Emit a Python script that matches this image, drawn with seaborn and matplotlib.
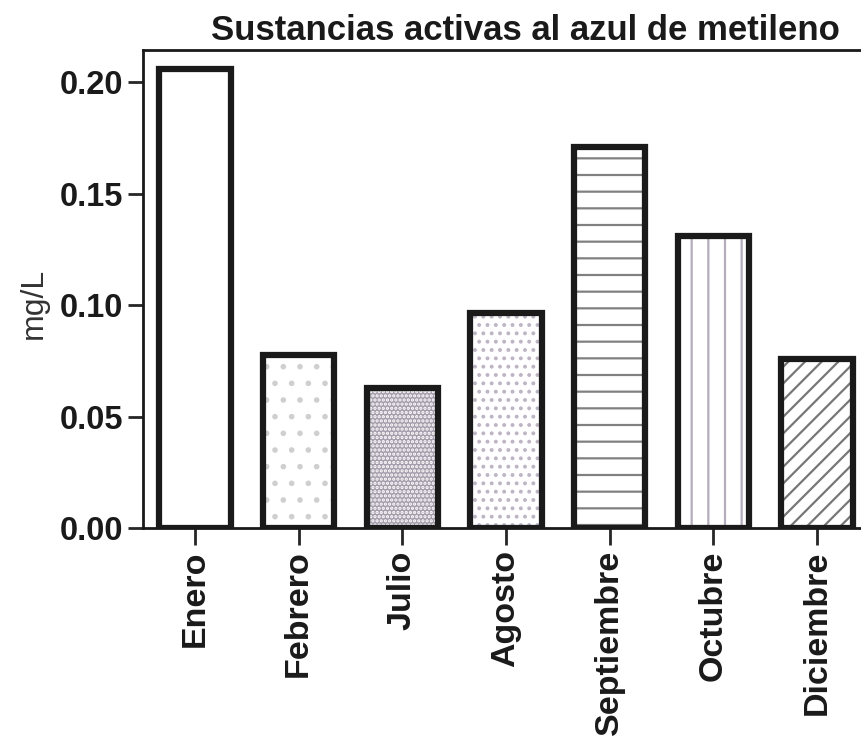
import matplotlib
matplotlib.use("Agg")
import matplotlib.pyplot as plt
import seaborn as sns

# datos
meses = ["Enero", "Febrero", "Julio", "Agosto", "Septiembre", "Octubre", "Diciembre"]
valores = [0.206, 0.0776, 0.063, 0.0964, 0.171, 0.131, 0.076]
tramas = ["", ".", "....", "..", "-", "|", "//"]
rellenos = ["white", "white", "#a59dab", "white", "white", "white", "white"]
color_trama = ["#888888", "#cfcfcf", "white", "#bdb5c4", "#808080", "#b4acbc", "#777777"]
ticks_y = [0.00, 0.05, 0.10, 0.15, 0.20]

sns.set_style("ticks")
plt.rcParams["font.family"] = ["Liberation Sans", "DejaVu Sans"]
plt.rcParams["hatch.linewidth"] = 1.6

fig = plt.figure(figsize=(8.62, 7.41), dpi=100)
ax = fig.add_axes([143 / 862, 1 - 528 / 741, (869 - 143) / 862, (528 - 50) / 741])

# capa de tramas
sns.barplot(x=meses, y=valores, ax=ax, width=0.69, color="white", linewidth=0)
for p, h, fc, hc in zip(ax.patches, tramas, rellenos, color_trama):
    p.set_facecolor(fc)
    p.set_edgecolor(hc)
    p.set_hatch(h)

# contornos negros
sns.barplot(x=meses, y=valores, ax=ax, width=0.69, fill=False,
            edgecolor="#1a1a1a", linewidth=4.5)

ax.set_xlim(-0.5, 6.5)
ax.set_ylim(0, 0.2145)
ax.set_yticks(ticks_y)
ax.set_yticklabels([f"{t:.2f}" for t in ticks_y])
for s in ax.spines.values():
    s.set_linewidth(2)
    s.set_color("#1a1a1a")

ax.tick_params(axis="y", length=11, width=2, labelsize=23.5, pad=3)
ax.tick_params(axis="x", length=12, width=2, labelsize=24.5, pad=4, rotation=90)
for lab in ax.get_yticklabels() + ax.get_xticklabels():
    lab.set_fontweight("bold")
    lab.set_color("#1a1a1a")

ax.set_ylabel("mg/L", fontsize=23, color="#333333")
ax.yaxis.set_label_coords(-0.13, 0.47)
ax.set_xlabel("")
ax.set_title("Sustancias activas al azul de metileno", fontsize=25,
             fontweight="bold", color="#1a1a1a", pad=7, x=0.527)

fig.savefig("out.png", dpi=100)
